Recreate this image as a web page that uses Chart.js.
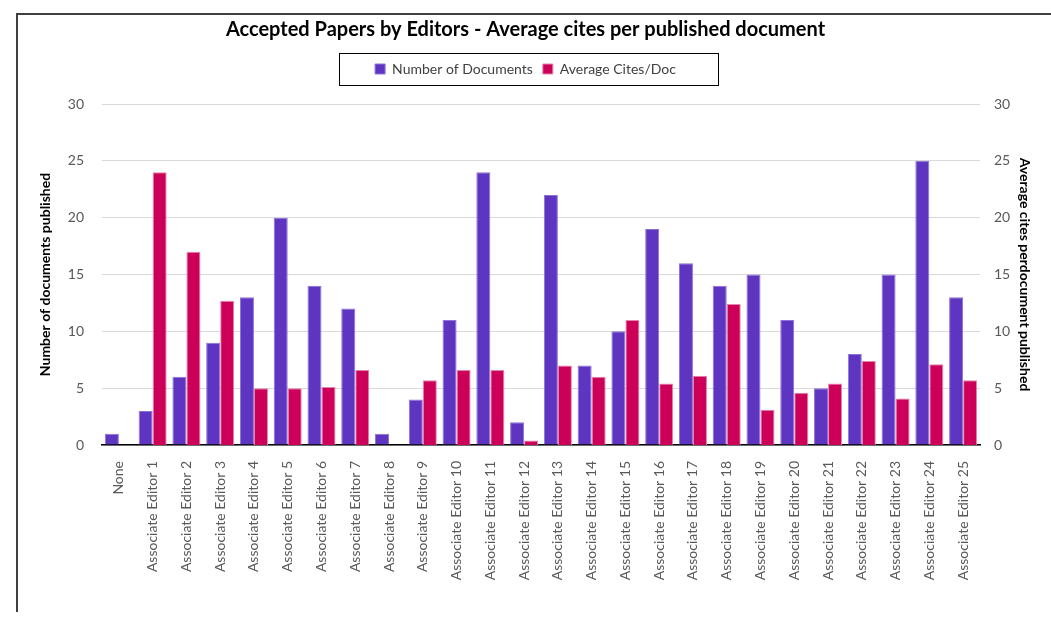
<!DOCTYPE html>
<html>
<head>
<meta charset="utf-8">
<script src="https://cdn.jsdelivr.net/npm/chart.js@4"></script>
<style>
  body { margin: 0; background: #fff; }
  #wrap { position: relative; width: 1051px; height: 620px; overflow: hidden; }
  #frame { position: absolute; left: 16px; top: 13px; width: 1100px; height: 597px;
           border-top: 2px solid #404040; border-left: 2px solid #404040; }
  canvas { position: absolute; left: 0; top: 0; }
</style>
</head>
<body>
<div id="wrap">
  <div id="frame"></div>
  <canvas id="chart" width="1051" height="620"></canvas>
</div>
<script>
// Categories (editors)
const editors = ["None", "Associate Editor 1", "Associate Editor 2", "Associate Editor 3",
  "Associate Editor 4", "Associate Editor 5", "Associate Editor 6", "Associate Editor 7",
  "Associate Editor 8", "Associate Editor 9", "Associate Editor 10", "Associate Editor 11",
  "Associate Editor 12", "Associate Editor 13", "Associate Editor 14", "Associate Editor 15",
  "Associate Editor 16", "Associate Editor 17", "Associate Editor 18", "Associate Editor 19",
  "Associate Editor 20", "Associate Editor 21", "Associate Editor 22", "Associate Editor 23",
  "Associate Editor 24", "Associate Editor 25"];

// Number of documents published per editor
const documents = [1, 3, 6, 9, 13, 20, 14, 12, 1, 4, 11, 24, 2, 22, 7, 10,
  19, 16, 14, 15, 11, 5, 8, 15, 25, 13];

// Average cites per published document
const avgCites = [0, 24, 17, 12.7, 5, 5, 5.1, 6.6, 0, 5.7, 6.6, 6.6, 0.4, 7, 6, 11,
  5.4, 6.1, 12.4, 3.1, 4.6, 5.4, 7.4, 4.1, 7.1, 5.7];

// Axis tick values (both axes 0..30 step 5)
const axisMin = 0;
const axisMax = 30;
const axisStep = 5;

const font = "Lato, 'Open Sans', sans-serif";
const tickGrey = '#595959';

// Draw a thin frame around the legend like the original
const legendFrame = {
  id: 'legendFrame',
  afterDraw(chart) {
    const boxes = chart.legend.legendHitBoxes;
    if (!boxes || !boxes.length) return;
    let l = Infinity, r = -Infinity, t = Infinity, b = -Infinity;
    boxes.forEach(h => {
      l = Math.min(l, h.left); r = Math.max(r, h.left + h.width);
      t = Math.min(t, h.top); b = Math.max(b, h.top + h.height);
    });
    const ctx = chart.ctx;
    ctx.save();
    ctx.strokeStyle = '#000';
    ctx.lineWidth = 1;
    ctx.strokeRect(Math.round(l - 36) + 0.5, Math.round(t - 9) + 0.5,
      Math.round(r - l + 78), Math.round(b - t + 18));
    ctx.restore();
  }
};

const ctx = document.getElementById('chart').getContext('2d');
new Chart(ctx, {
  type: 'bar',
  data: {
    labels: editors,
    datasets: [{
      label: 'Number of Documents',
      data: documents,
      yAxisID: 'y',
      backgroundColor: '#5E35C1',
      borderColor: '#8C72D8',
      borderWidth: 1,
      barPercentage: 1.0,
      categoryPercentage: 0.83
    }, {
      label: 'Average Cites/Doc',
      data: avgCites,
      yAxisID: 'y2',
      backgroundColor: '#CD0059',
      borderColor: '#E584AA',
      borderWidth: 1,
      barPercentage: 1.0,
      categoryPercentage: 0.83
    }]
  },
  options: {
    responsive: false,
    animation: false,
    layout: { padding: 0 },
    plugins: {
      title: {
        display: true,
        text: 'Accepted Papers by Editors - Average cites per published document',
        color: '#000',
        font: { family: font, size: 20, weight: 'bold' },
        padding: { top: 18, bottom: 10 }
      },
      legend: {
        display: true,
        labels: {
          color: '#404040',
          font: { family: font, size: 14 },
          boxWidth: 10,
          boxHeight: 10,
          padding: 10
        }
      },
      tooltip: { enabled: false }
    },
    scales: {
      x: {
        grid: { display: false },
        border: { display: true, color: '#000', width: 1.5 },
        ticks: {
          color: tickGrey,
          font: { family: font, size: 14 },
          minRotation: 90,
          maxRotation: 90,
          autoSkip: false,
          padding: 8
        },
        afterFit: s => { s.height = 175; }
      },
      xTop: {
        type: 'category',
        position: 'top',
        labels: editors,
        grid: { display: false },
        border: { display: false },
        ticks: { display: false },
        afterFit: s => { s.height = 18; }
      },
      y: {
        position: 'left',
        min: axisMin,
        max: axisMax,
        ticks: {
          stepSize: axisStep,
          color: tickGrey,
          font: { family: font, size: 14 },
          padding: 18
        },
        grid: { color: '#D9D9D9', lineWidth: 1, drawTicks: false },
        border: { display: false },
        title: {
          display: true,
          text: 'Number of documents published',
          color: '#000',
          font: { family: font, size: 14, weight: 'bold' },
          padding: { top: 37 }
        },
        afterFit: s => { s.width = 102; }
      },
      y2: {
        position: 'right',
        min: axisMin,
        max: axisMax,
        ticks: {
          stepSize: axisStep,
          color: tickGrey,
          font: { family: font, size: 14 },
          padding: 14
        },
        grid: { display: false, drawTicks: false },
        border: { display: false },
        title: {
          display: true,
          text: 'Average cites perdocument published',
          color: '#000',
          font: { family: font, size: 14, weight: 'bold' },
          padding: { top: 18 }
        },
        afterFit: s => { s.width = 71; }
      }
    }
  },
  plugins: [legendFrame]
});
</script>
</body>
</html>
